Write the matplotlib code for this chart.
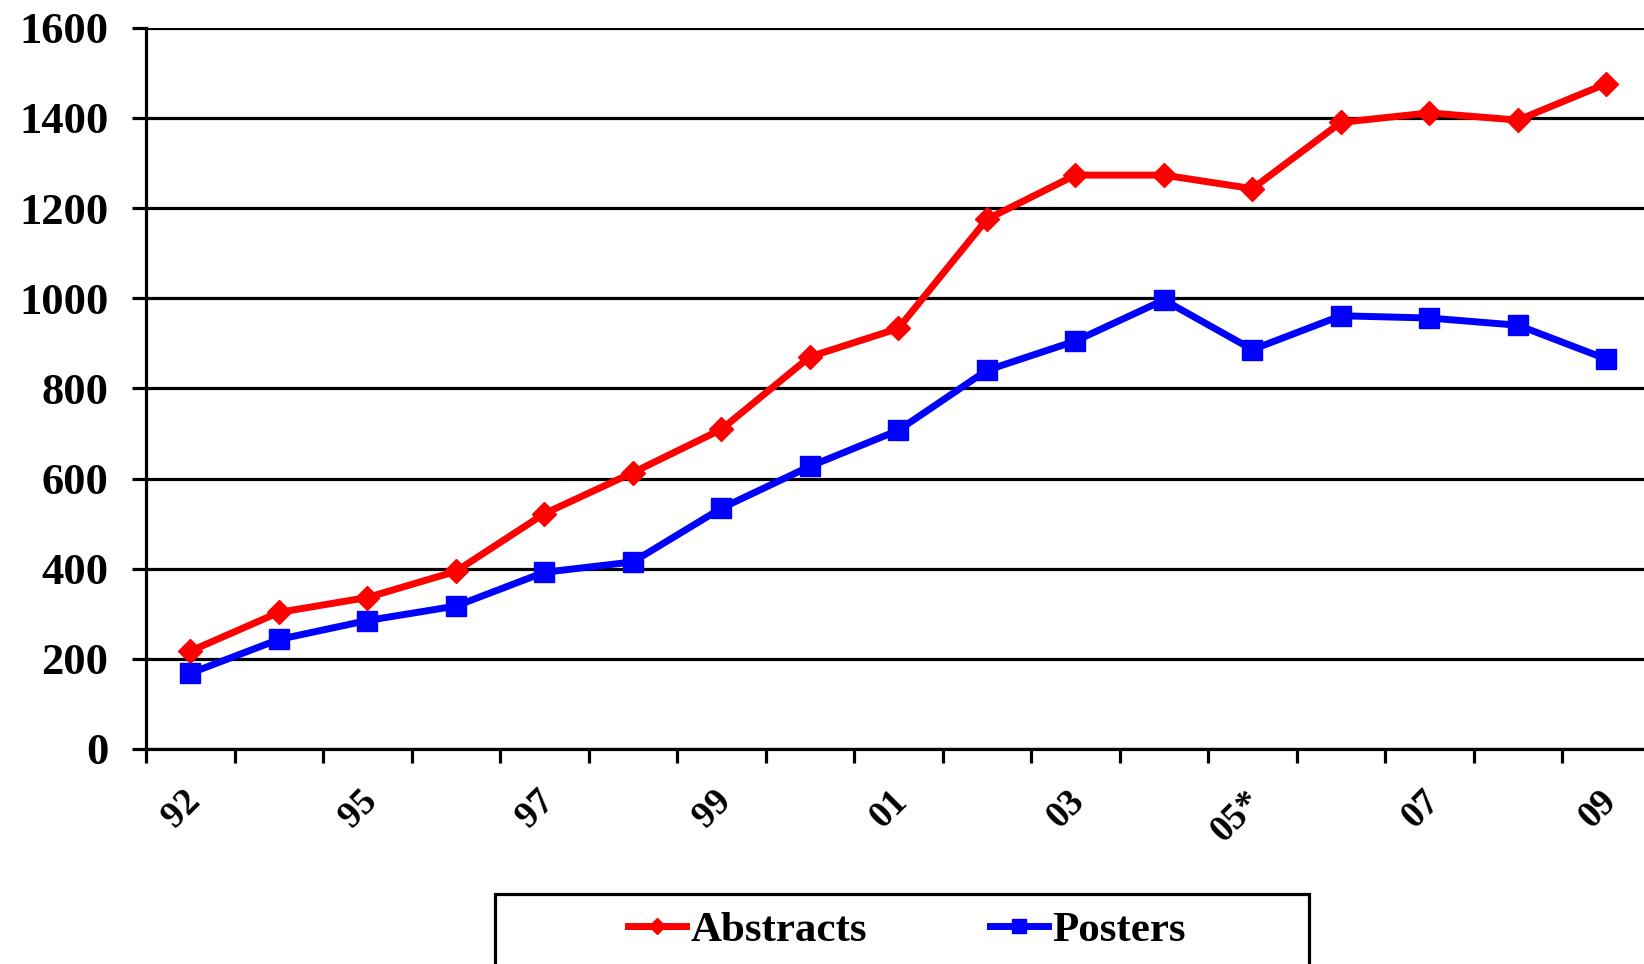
import matplotlib
matplotlib.use("Agg")
import matplotlib.pyplot as plt
from matplotlib.patches import Rectangle
import numpy as np

# ---- data ----
years = ["92", "94", "95", "96", "97", "98", "99", "00", "01", "02",
         "03", "04", "05*", "06", "07", "08", "09"]
abstracts = [217, 303, 336, 394, 522, 613, 709, 870, 933, 1175,
             1273, 1273, 1243, 1390, 1411, 1395, 1476]
posters = [168, 243, 285, 317, 392, 415, 534, 627, 707, 840,
           905, 996, 886, 961, 956, 940, 865]
yticks = [0, 200, 400, 600, 800, 1000, 1200, 1400, 1600]

plt.rcParams['font.family'] = ['Liberation Serif', 'DejaVu Serif']
plt.rcParams['font.weight'] = 'bold'

W, H = 1644, 964
fig = plt.figure(figsize=(W / 100, H / 100), dpi=100)
left_px, right_px, top_px, bot_px = 146, 1650.7, 27.7, 749
ax = fig.add_axes([left_px / W, 1 - bot_px / H, (right_px - left_px) / W, (bot_px - top_px) / H])

x = np.arange(len(years))
ax.plot(x, abstracts, color='#FF0000', lw=5, marker='D', ms=12,
        label='Abstracts', zorder=3, solid_joinstyle='miter')
ax.plot(x, posters, color='#0000FF', lw=5, marker='s', ms=14,
        label='Posters', zorder=4, solid_joinstyle='miter')

ax.set_xlim(-0.5, len(years) - 0.5)
ax.set_ylim(0, 1600)
ax.set_yticks(yticks)
ax.set_yticklabels([str(v) for v in yticks])
ax.yaxis.grid(True, color='black', lw=2.3)
ax.set_axisbelow(True)

# category boundary ticks
ax.set_xticks(np.arange(len(years)) - 0.5)
ax.set_xticklabels([])
ax.tick_params(axis='x', which='major', direction='out', length=10, width=2.3, color='black')
# labels on every other category (slightly offset so the rotated text ends at the point)
lab_pos = x[::2]
ax.set_xticks(lab_pos + 0.19, minor=True)
ax.set_xticklabels([years[i] for i in lab_pos], minor=True)
ax.tick_params(axis='x', which='minor', length=0, pad=25, labelsize=27)
for t in ax.get_xticklabels(minor=True):
    t.set_rotation(45)
    t.set_ha('right')
    t.set_va('top')
    t.set_fontweight('bold')

ax.tick_params(axis='y', direction='out', length=10, width=2.3, pad=17, labelsize=32)
for t in ax.get_yticklabels():
    t.set_fontweight('bold')

for s in ['top', 'right']:
    ax.spines[s].set_visible(False)
for s in ['left', 'bottom']:
    ax.spines[s].set_linewidth(2.3)
    ax.spines[s].set_color('black')

# legend frame
rect = Rectangle((495 / W, -0.02), (1309 - 495) / W, (964 - 894) / H + 0.02,
                 transform=fig.transFigure, fill=False, lw=2.3, edgecolor='black')
fig.patches.append(rect)

leg = fig.legend(loc='center left', bbox_to_anchor=(628 / W, 1 - 930 / H),
                 ncol=2, frameon=False, borderpad=0, borderaxespad=0,
                 handlelength=1.35, handletextpad=0.1, columnspacing=2.85,
                 markerscale=0.7, prop={'family': 'Liberation Serif', 'weight': 'bold', 'size': 31})

fig.savefig('out.png', dpi=100)
